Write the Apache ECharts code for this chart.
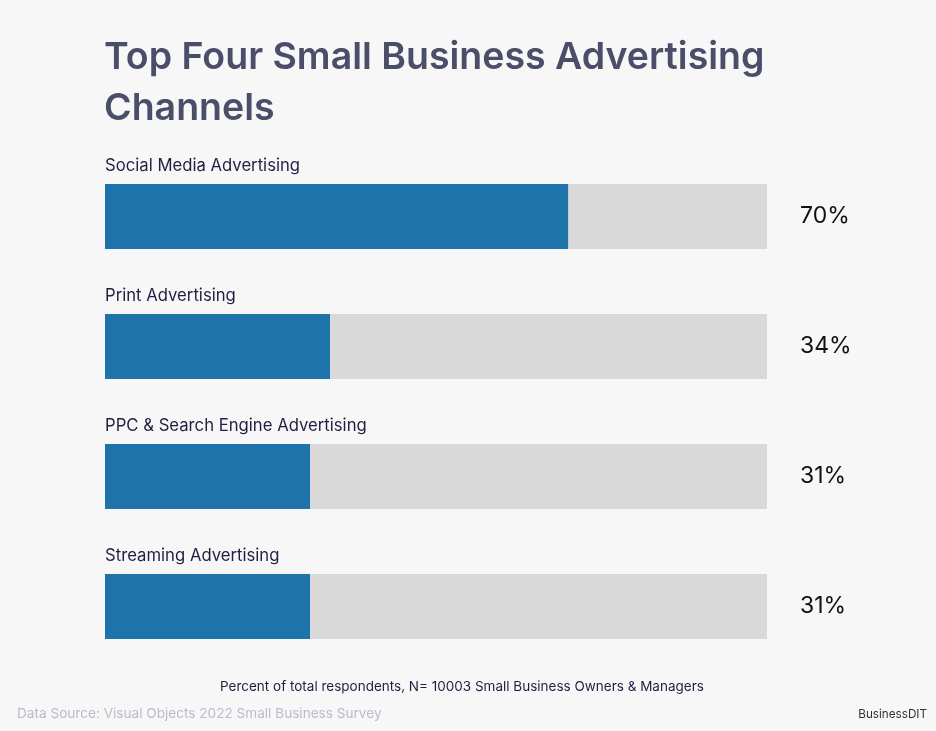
<!DOCTYPE html>
<html><head><meta charset="utf-8">
<script src="https://cdn.jsdelivr.net/npm/echarts@6/dist/echarts.min.js"></script>
<style>html,body{margin:0;padding:0;background:#f7f7f7}#c{width:936px;height:731px}</style>
</head><body><div id="c"></div>
<script>
const categories = ['Social Media Advertising','Print Advertising','PPC & Search Engine Advertising','Streaming Advertising'];
const values = [70, 34, 31, 31];
const remainder = values.map(v => 100 - v);
const FONT = 'Inter, "Noto Sans", sans-serif';
const chart = echarts.init(document.getElementById('c'));
chart.setOption({
  backgroundColor: '#f7f7f7',
  animation: false,
  title: [
    {text: 'Top Four Small Business Advertising\nChannels', left: 99, top: 27,
     textStyle: {fontFamily: FONT, fontSize: 37.5, fontWeight: 600, color: '#4a4e69', lineHeight: 51}},
    {text: 'Percent of total respondents, N= 10003 Small Business Owners & Managers', left: 215, top: 675,
     textStyle: {fontFamily: FONT, fontSize: 13.5, fontWeight: 400, color: '#1f2041'}},
    {text: 'Data Source: Visual Objects 2022 Small Business Survey', left: 12, top: 702,
     textStyle: {fontFamily: FONT, fontSize: 13.6, fontWeight: 400, color: '#b9bccb'}},
    {text: 'BusinessDIT', right: 4, top: 703,
     textStyle: {fontFamily: FONT, fontSize: 11.7, fontWeight: 400, color: '#333333'}}
  ],
  grid: {left: 105, right: 169, top: 151.5, bottom: 59.5},
  xAxis: {type: 'value', min: 0, max: 100, show: false},
  yAxis: {type: 'category', data: categories, inverse: true, show: false},
  series: [
    {type: 'bar', stack: 's', data: values, barWidth: 65, itemStyle: {color: '#1f73ab'},
     label: {show: true, position: [0, -10], align: 'left', verticalAlign: 'bottom',
       formatter: p => categories[p.dataIndex],
       fontFamily: FONT, fontSize: 16.7, color: '#1f2041'}},
    {type: 'bar', stack: 's', data: remainder, barWidth: 65, itemStyle: {color: '#d9d9d9'},
     label: {show: true, position: 'right', distance: 33,
       formatter: p => values[p.dataIndex] + '%',
       fontFamily: FONT, fontSize: 23, color: '#111111'}}
  ]
});
</script></body></html>
